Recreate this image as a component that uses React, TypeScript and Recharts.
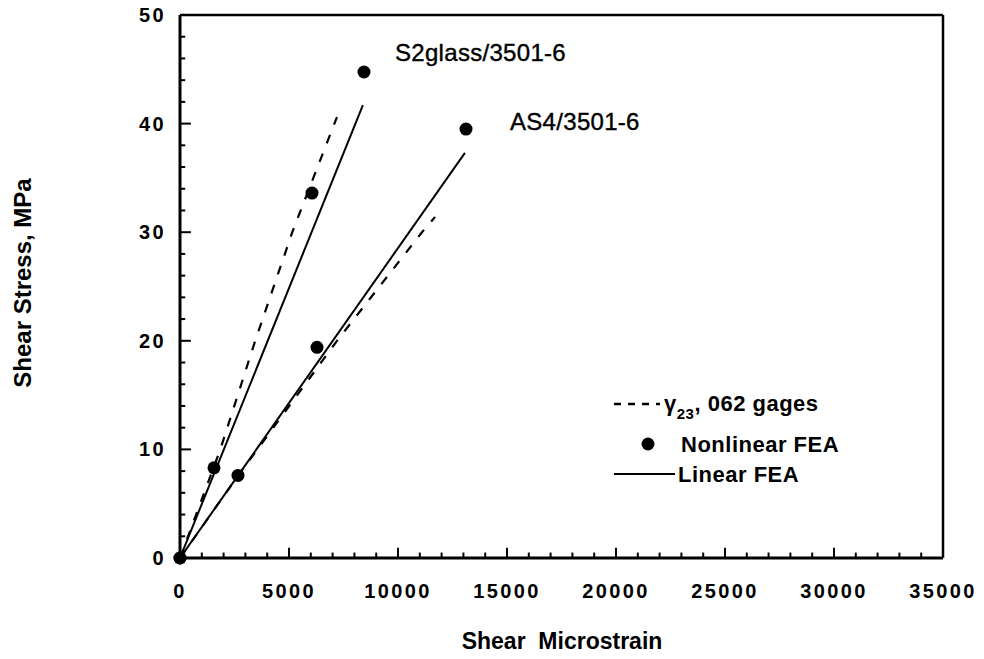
import React from 'react';
import { ComposedChart, Line, Scatter, XAxis, YAxis, ReferenceLine, Customized } from 'recharts';

// Tick values (minor every 1000 / 2, labelled every 5000 / 10)
const xMinorMarks = [1000, 2000, 3000, 4000, 6000, 7000, 8000, 9000, 11000, 12000, 13000, 14000, 16000, 17000, 18000, 19000, 21000, 22000, 23000, 24000, 26000, 27000, 28000, 29000, 31000, 32000, 33000, 34000];
const yMinorMarks = [2, 4, 6, 8, 12, 14, 16, 18, 22, 24, 26, 28, 32, 34, 36, 38, 42, 44, 46, 48];
const xLabelled = [0, 5000, 10000, 15000, 20000, 25000, 30000, 35000];
const yLabelled = [0, 10, 20, 30, 40, 50];
const xMajorMarks = [5000, 10000, 15000, 20000, 25000, 30000];
const yMajorMarks = [10, 20, 30, 40];

// γ23, 062 gages (measured)
const s2Gage = [
  { x: 0, y: 0 },
  { x: 1850, y: 10 },
  { x: 3450, y: 20 },
  { x: 5150, y: 30 },
  { x: 7200, y: 40.6 },
];
const as4Gage = [
  { x: 0, y: 0 },
  { x: 2600, y: 7.4 },
  { x: 3550, y: 10 },
  { x: 7200, y: 20 },
  { x: 11100, y: 30 },
  { x: 11700, y: 31.4 },
];

// Linear FEA
const s2Linear = [
  { x: 0, y: 0 },
  { x: 8390, y: 41.7 },
];
const as4Linear = [
  { x: 0, y: 0 },
  { x: 13070, y: 37.3 },
];

// Nonlinear FEA
const s2Nonlinear = [
  { x: 0, y: 0 },
  { x: 1560, y: 8.3 },
  { x: 6055, y: 33.6 },
  { x: 8440, y: 44.75 },
];
const as4Nonlinear = [
  { x: 0, y: 0 },
  { x: 2660, y: 7.6 },
  { x: 6285, y: 19.4 },
  { x: 13120, y: 39.5 },
];

// inward tick-mark lengths, expressed in axis units (x: ~0.0218 px/unit, y: ~10.86 px/unit)
const X_MAJOR_LEN = 0.95;
const X_MINOR_LEN = 0.5;
const Y_MAJOR_LEN = 500;
const Y_MINOR_LEN = 240;

const FONT = '"Liberation Sans", Arial, Helvetica, sans-serif';

const XLabel = (props: any) => {
  const { x, y, payload } = props;
  return (
    <text x={x} y={y + 40} textAnchor="middle" fontFamily={FONT} fontWeight="bold" fontSize={20} letterSpacing={2.4} fill="#000">
      {payload.value}
    </text>
  );
};

const YLabel = (props: any) => {
  const { x, y, payload } = props;
  return (
    <text x={x - 14} y={y + 7} textAnchor="end" fontFamily={FONT} fontWeight="bold" fontSize={20} letterSpacing={2.4} fill="#000">
      {payload.value}
    </text>
  );
};

const Dot = (props: any) => <circle cx={props.cx} cy={props.cy} r={6.5} fill="#000" />;

const Overlay = () => (
  <g fontFamily={FONT} fill="#000">
    {/* axis titles */}
    <text x={22} y={283} transform="rotate(-90 22 283)" textAnchor="middle" dominantBaseline="central" fontWeight="bold" fontSize={24}>
      Shear Stress, MPa
    </text>
    <text x={562} y={649} textAnchor="middle" fontWeight="bold" fontSize={23} style={{ whiteSpace: 'pre' }}>
      {'Shear  Microstrain'}
    </text>
    {/* curve annotations */}
    <text x={395} y={61} fontSize={24} letterSpacing={0.3} stroke="#000" strokeWidth={0.4}>S2glass/3501-6</text>
    <text x={510} y={130} fontSize={24} letterSpacing={0.3} stroke="#000" strokeWidth={0.4}>AS4/3501-6</text>
    {/* legend */}
    <line x1={614} x2={660} y1={404} y2={404} stroke="#000" strokeWidth={2.5} strokeDasharray="7 7" />
    <text x={664} y={411} fontWeight="bold" fontSize={22} letterSpacing={0.5}>
      γ<tspan fontSize={15} dy={8}>23</tspan>
      <tspan dy={-8}>, 062 gages</tspan>
    </text>
    <circle cx={648} cy={444} r={6.5} fill="#000" />
    <text x={681} y={452} fontWeight="bold" fontSize={22} letterSpacing={0.5}>Nonlinear FEA</text>
    <line x1={614} x2={675} y1={474} y2={474} stroke="#000" strokeWidth={2} />
    <text x={678} y={482} fontWeight="bold" fontSize={22} letterSpacing={0.5}>Linear FEA</text>
  </g>
);

export default function App() {
  return (
    <div style={{ marginTop: -8, marginLeft: -8, width: 984, height: 659 }}>
      <ComposedChart
        width={984}
        height={659}
        margin={{ top: 15, right: 41, left: 120, bottom: 71 }}
      >
        <XAxis
          type="number"
          dataKey="x"
          domain={[0, 35000]}
          ticks={xLabelled}
          interval={0}
          height={30}
          tickSize={0}
          tickMargin={0}
          tickLine={false}
          axisLine={{ stroke: '#000', strokeWidth: 3 }}
          tick={<XLabel />}
        />
        <YAxis
          type="number"
          dataKey="y"
          domain={[0, 50]}
          ticks={yLabelled}
          interval={0}
          width={60}
          tickSize={0}
          tickMargin={0}
          tickLine={false}
          axisLine={{ stroke: '#000', strokeWidth: 3 }}
          tick={<YLabel />}
        />
        {/* frame */}
        <ReferenceLine y={50} stroke="#000" strokeWidth={2.5} />
        <ReferenceLine x={35000} stroke="#000" strokeWidth={2.5} />
        {/* inward tick marks */}
        {xMinorMarks.map((v) => (
          <ReferenceLine key={'xm' + v} segment={[{ x: v, y: 0 }, { x: v, y: X_MINOR_LEN }]} stroke="#000" strokeWidth={2} />
        ))}
        {xMajorMarks.map((v) => (
          <ReferenceLine key={'xM' + v} segment={[{ x: v, y: 0 }, { x: v, y: X_MAJOR_LEN }]} stroke="#000" strokeWidth={2} />
        ))}
        {yMinorMarks.map((v) => (
          <ReferenceLine key={'ym' + v} segment={[{ x: 0, y: v }, { x: Y_MINOR_LEN, y: v }]} stroke="#000" strokeWidth={2} />
        ))}
        {yMajorMarks.map((v) => (
          <ReferenceLine key={'yM' + v} segment={[{ x: 0, y: v }, { x: Y_MAJOR_LEN, y: v }]} stroke="#000" strokeWidth={2} />
        ))}
        <Line data={s2Gage} dataKey="y" type="linear" stroke="#000" strokeWidth={2.2} strokeDasharray="9 11" dot={false} isAnimationActive={false} />
        <Line data={as4Gage} dataKey="y" type="linear" stroke="#000" strokeWidth={2.2} strokeDasharray="9 11" dot={false} isAnimationActive={false} />
        <Line data={s2Linear} dataKey="y" type="linear" stroke="#000" strokeWidth={2} dot={false} isAnimationActive={false} />
        <Line data={as4Linear} dataKey="y" type="linear" stroke="#000" strokeWidth={2} dot={false} isAnimationActive={false} />
        <Scatter data={s2Nonlinear} dataKey="y" shape={<Dot />} isAnimationActive={false} />
        <Scatter data={as4Nonlinear} dataKey="y" shape={<Dot />} isAnimationActive={false} />
        <Customized component={Overlay} />
      </ComposedChart>
    </div>
  );
}
